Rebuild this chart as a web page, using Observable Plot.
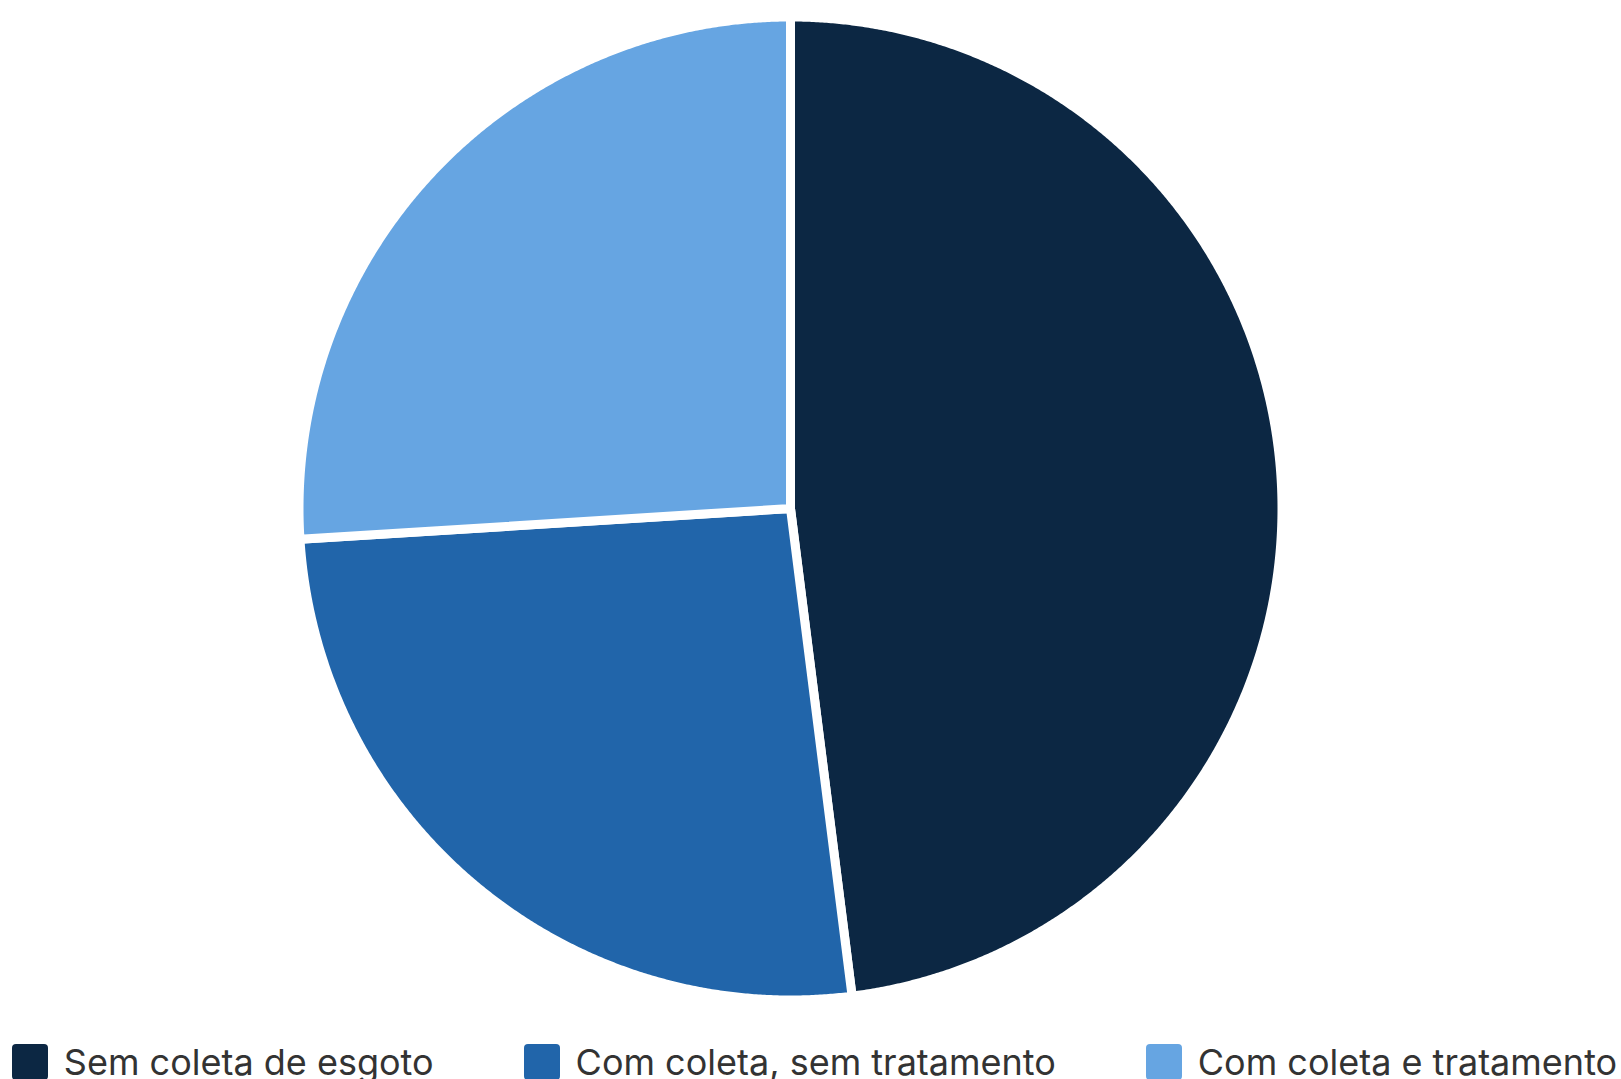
<!DOCTYPE html>
<html>
<head>
<meta charset="utf-8">
<script src="https://cdn.jsdelivr.net/npm/d3@7"></script>
<script src="https://cdn.jsdelivr.net/npm/@observablehq/plot@0.6"></script>
<style>
  html, body { margin: 0; padding: 0; background: #fff; overflow: hidden; }
  #chart svg { display: block; }
  #legend {
    display: flex; justify-content: center; align-items: center;
    column-gap: 90px; padding-top: 4px; margin-left: 8px;
    font-family: Inter, "Noto Sans", sans-serif; font-size: 36px; color: #333;
    white-space: nowrap;
  }
  .item { display: flex; align-items: center; height: 36px; line-height: 36px; }
  .sw { width: 36px; height: 36px; border-radius: 4px; margin-right: 16px; flex: none; }
</style>
</head>
<body>
<div id="chart"></div>
<div id="legend"></div>
<script>
const categories = ["Sem coleta de esgoto", "Com coleta, sem tratamento", "Com coleta e tratamento"];
const values = [48, 26, 26];
const colors = ["#0c2743", "#2165aa", "#66a5e2"];

const W = 1621, H = 1040;
const cx = 790, cy = 508, R = 491.5;

const arcs = d3.pie().sort(null).value(d => d.value)(categories.map((name, i) => ({name, value: values[i]})));
const pts = [];
arcs.forEach(a => {
  const name = a.data.name;
  pts.push({name, x: 0, y: 0});
  const n = Math.max(2, Math.ceil((a.endAngle - a.startAngle) / (Math.PI / 720)));
  for (let k = 0; k <= n; k++) {
    const t = a.startAngle + (a.endAngle - a.startAngle) * k / n;
    pts.push({name, x: Math.sin(t), y: Math.cos(t)});
  }
  pts.push({name, x: 0, y: 0});
});

const chart = Plot.plot({
  width: W, height: H,
  margin: 0,
  x: {domain: [-1, 1], range: [cx - R, cx + R], axis: null},
  y: {domain: [-1, 1], range: [cy + R, cy - R], axis: null},
  color: {domain: categories, range: colors},
  marks: [
    Plot.line(pts, {x: "x", y: "y", z: "name", fill: "name", stroke: "white", strokeWidth: 9, strokeLinejoin: "round", curve: "linear"})
  ]
});
document.getElementById("chart").appendChild(chart);

const legend = document.getElementById("legend");
categories.forEach((c, i) => {
  const it = document.createElement("div");
  it.className = "item";
  const sw = document.createElement("span");
  sw.className = "sw";
  sw.style.background = colors[i];
  const tx = document.createElement("span");
  tx.textContent = c;
  it.appendChild(sw); it.appendChild(tx);
  legend.appendChild(it);
});
</script>
</body>
</html>
